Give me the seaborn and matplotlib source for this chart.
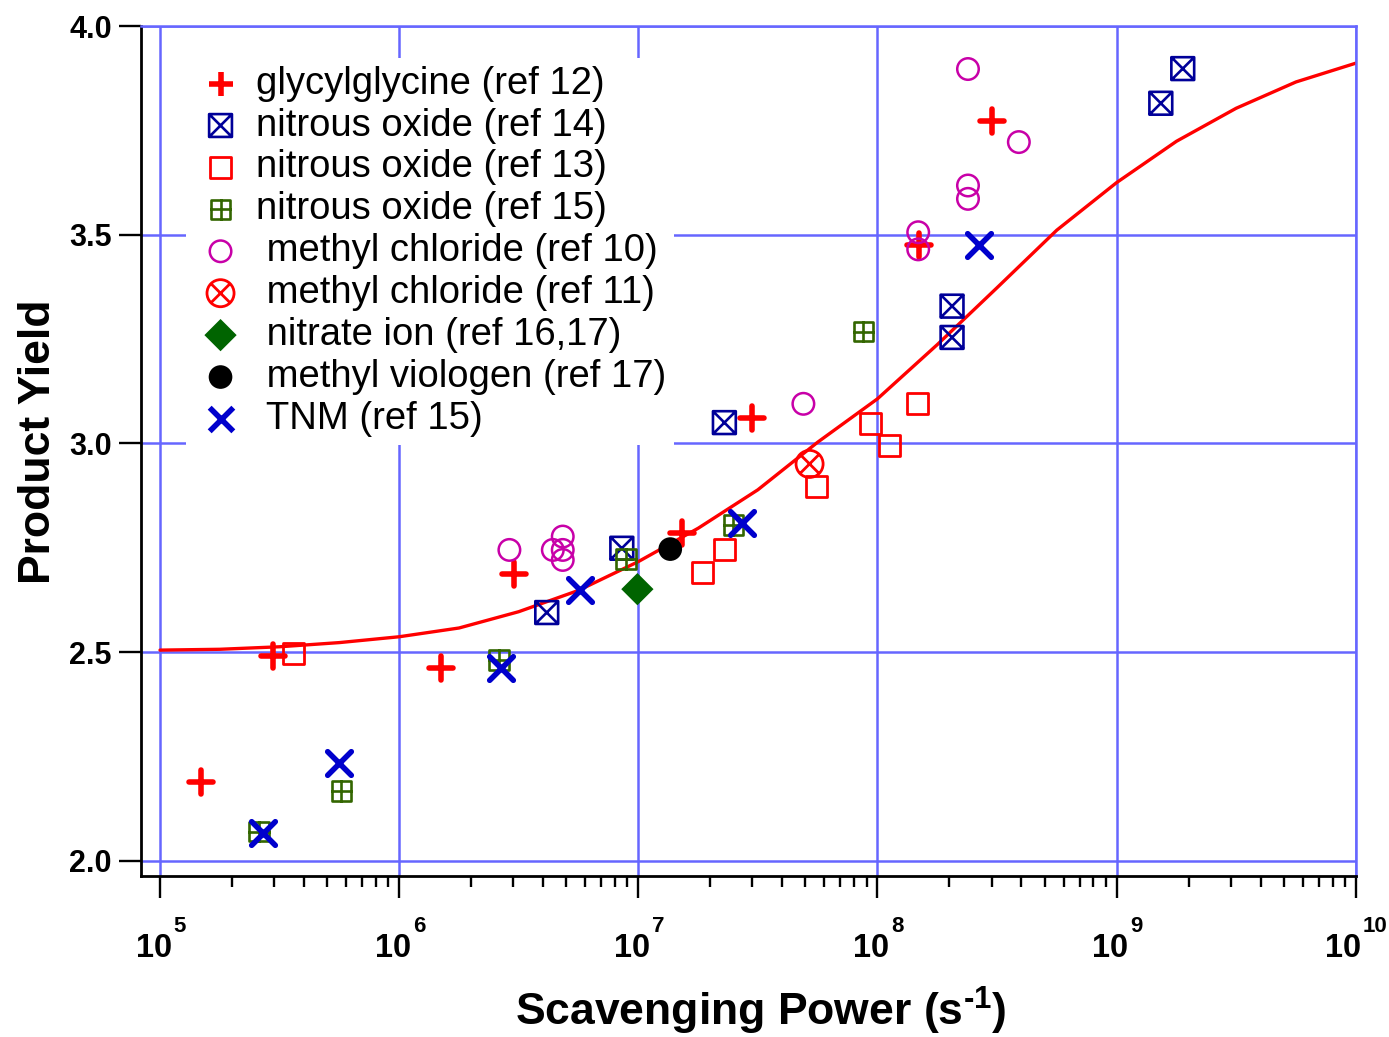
import numpy as np
import matplotlib
matplotlib.use("Agg")
import matplotlib.pyplot as plt
import seaborn as sns
from matplotlib.path import Path
from matplotlib.ticker import FixedLocator, FixedFormatter, NullFormatter

# ---------------- data ----------------
gly_x = [1.48e5, 2.96e5, 1.49e6, 3.03e6, 1.52e7, 2.98e7, 1.49e8, 3.02e8]
gly_y = [2.188, 2.491, 2.462, 2.687, 2.786, 3.060, 3.475, 3.773]

n2o14_x = [4.14e6, 8.53e6, 2.29e7, 2.05e8, 2.05e8, 1.53e9, 1.89e9]
n2o14_y = [2.595, 2.749, 3.050, 3.329, 3.254, 3.815, 3.898]

n2o13_x = [3.63e5, 1.85e7, 2.29e7, 5.54e7, 9.31e7, 1.12e8, 1.47e8]
n2o13_y = [2.496, 2.691, 2.747, 2.897, 3.048, 2.996, 3.095]

n2o15_x = [2.60e5, 5.73e5, 2.62e6, 8.89e6, 2.50e7, 8.73e7]
n2o15_y = [2.070, 2.168, 2.481, 2.723, 2.805, 3.268]

mecl10_x = [2.89e6, 4.39e6, 4.83e6, 4.83e6, 4.83e6, 4.90e7,
            1.48e8, 1.48e8, 2.39e8, 2.39e8, 2.39e8, 3.90e8]
mecl10_y = [2.745, 2.745, 2.777, 2.745, 2.721, 3.095,
            3.506, 3.465, 3.897, 3.618, 3.586, 3.722]

mecl11_x = [5.20e7]
mecl11_y = [2.951]

nitrate_x = [9.91e6]
nitrate_y = [2.651]

mv_x = [1.36e7]
mv_y = [2.747]

tnm_x = [2.70e5, 5.62e5, 2.66e6, 5.71e6, 2.71e7, 2.67e8]
tnm_y = [2.066, 2.234, 2.461, 2.649, 2.809, 3.475]

fit_x = [1e5, 1.78e5, 3.16e5, 5.62e5, 1e6, 1.78e6, 3.16e6, 5.62e6, 1e7,
         1.78e7, 3.16e7, 5.62e7, 1e8, 1.78e8, 3.16e8, 5.62e8, 1e9, 1.78e9,
         3.16e9, 5.62e9, 1e10]
fit_y = [2.505, 2.507, 2.513, 2.523, 2.537, 2.558, 2.597, 2.648, 2.717,
         2.797, 2.889, 3.003, 3.107, 3.237, 3.373, 3.511, 3.625, 3.724,
         3.803, 3.866, 3.911]

labels = ["glycylglycine (ref 12)", "nitrous oxide (ref 14)",
          "nitrous oxide (ref 13)", "nitrous oxide (ref 15)",
          " methyl chloride (ref 10)", " methyl chloride (ref 11)",
          " nitrate ion (ref 16,17)", " methyl viologen (ref 17)",
          " TNM (ref 15)"]

xticks = [1e5, 1e6, 1e7, 1e8, 1e9, 1e10]
xtick_base = "10"
xtick_exps = ["5", "6", "7", "8", "9", "10"]
yticks = [2.0, 2.5, 3.0, 3.5, 4.0]
ytick_labels = ["2.0", "2.5", "3.0", "3.5", "4.0"]

# ---------------- style ----------------
sns.set_style("ticks")
plt.rcParams["font.family"] = ["Liberation Sans", "DejaVu Sans"]
plt.rcParams["font.weight"] = "bold"
for k in ("text.color", "axes.labelcolor", "xtick.color", "ytick.color"):
    plt.rcParams[k] = "black"
plt.rcParams["mathtext.fontset"] = "custom"
plt.rcParams["mathtext.rm"] = "Liberation Sans:bold"
plt.rcParams["mathtext.bf"] = "Liberation Sans:bold"
plt.rcParams["mathtext.it"] = "Liberation Sans:bold:italic"
plt.rcParams["mathtext.sf"] = "Liberation Sans:bold"
plt.rcParams["mathtext.default"] = "rm"

GRID = "#6666FF"

# custom markers
M, L, C = Path.MOVETO, Path.LINETO, Path.CLOSEPOLY
xbox = Path([(-1, -1), (1, -1), (1, 1), (-1, 1), (-1, -1),
             (-1, -1), (1, 1), (-1, 1), (1, -1)],
            [M, L, L, L, C, M, L, M, L])
gridbox = Path([(-1, -1), (1, -1), (1, 1), (-1, 1), (-1, -1),
                (0, -1.1), (0, 1.1), (-1.1, 0), (1.1, 0)],
               [M, L, L, L, C, M, L, M, L])
d = 0.707
xlines = Path([(-d, -d), (d, d), (-d, d), (d, -d)], [M, L, M, L])
circx = Path.make_compound_path(Path.unit_circle(), xlines)

fig = plt.figure(figsize=(13.89, 10.37), dpi=100)
ax = fig.add_axes([0.1013, 0.1553, 0.9761 - 0.1013, 0.9749 - 0.1553])
ax.set_xscale("log")

sns.lineplot(x=fit_x, y=fit_y, color="#FF0000", linewidth=2.4,
             estimator=None, sort=False, ax=ax, label="_nolegend_", zorder=2)


def unfilled(xs, ys, marker, s, lw, color, label):
    sns.scatterplot(x=xs, y=ys, marker=marker, s=s, facecolor="none",
                    edgecolor=color, linewidth=lw, label=label, ax=ax, zorder=3)


def stroke(xs, ys, marker, s, lw, color, label):
    sns.scatterplot(x=xs, y=ys, marker=marker, s=s, color=color,
                    linewidth=lw, label=label, ax=ax, zorder=3,
                    capstyle="round")


def filled(xs, ys, marker, s, color, label):
    sns.scatterplot(x=xs, y=ys, marker=marker, s=s, color=color,
                    edgecolor="none", linewidth=0, label=label, ax=ax, zorder=3)


stroke(gly_x, gly_y, "+", 320, 4.0, "#FF0000", labels[0])
unfilled(n2o14_x, n2o14_y, xbox, 270, 1.9, "#000099", labels[1])
unfilled(n2o13_x, n2o13_y, "s", 230, 2.0, "#FF0000", labels[2])
unfilled(n2o15_x, n2o15_y, gridbox, 240, 1.9, "#336600", labels[3])
unfilled(mecl10_x, mecl10_y, "o", 240, 1.8, "#C800A8", labels[4])
unfilled(mecl11_x, mecl11_y, circx, 380, 2.0, "#FF0000", labels[5])
filled(nitrate_x, nitrate_y, "D", 270, "#006400", labels[6])
filled(mv_x, mv_y, "o", 290, "#000000", labels[7])
stroke(tnm_x, tnm_y, "x", 290, 4.0, "#0000CC", labels[8])

# ---------------- axes ----------------
ax.set_xlim(10 ** 4.9193, 1e10)
ax.set_ylim(1.964, 4.0)
ax.xaxis.set_major_locator(FixedLocator(xticks))
ax.xaxis.set_major_formatter(NullFormatter())
minor = [m * 10 ** e for e in range(5, 10) for m in range(2, 10)]
ax.xaxis.set_minor_locator(FixedLocator(minor))
ax.xaxis.set_minor_formatter(NullFormatter())
ax.yaxis.set_major_locator(FixedLocator(yticks))
ax.yaxis.set_major_formatter(FixedFormatter(ytick_labels))
ax.yaxis.set_minor_locator(FixedLocator([]))

ax.grid(True, which="major", color=GRID, linewidth=1.8)
ax.set_axisbelow(True)
for side in ("left", "bottom"):
    ax.spines[side].set_color("black")
    ax.spines[side].set_linewidth(2.0)
for side in ("top", "right"):
    ax.spines[side].set_visible(True)
    ax.spines[side].set_color(GRID)
    ax.spines[side].set_linewidth(1.8)

ax.tick_params(axis="both", which="major", length=15.8, width=1.7,
               direction="out", color="black")
ax.tick_params(axis="x", which="minor", length=8, width=1.7, direction="out")
ax.tick_params(axis="y", which="major", labelsize=22, pad=5)

# x tick labels: "10" with a raised exponent, centred as a whole on the tick
xt = ax.get_xaxis_transform()
for t, e in zip(xticks, xtick_exps):
    one = len(e) == 1
    ax.annotate(xtick_base, xy=(t, 0), xycoords=xt,
                xytext=(8.6 if one else 4.0, -58.5), textcoords="offset points",
                ha="right", va="baseline", fontsize=23.5, fontweight="bold",
                annotation_clip=False)
    ax.annotate(e, xy=(t, 0), xycoords=xt,
                xytext=(9.8 if one else 5.0, -40.5), textcoords="offset points",
                ha="left", va="baseline", fontsize=16, fontweight="bold",
                annotation_clip=False)

ax.set_xlabel("Scavenging Power (s$^{\u20101}$)", fontsize=32, fontweight="bold")
ax.set_ylabel("Product Yield", fontsize=32, fontweight="bold")
ax.xaxis.set_label_coords(0.5105, -0.128)
ax.yaxis.set_label_coords(-0.0672, 0.5106)

leg = ax.legend(loc="upper left", bbox_to_anchor=(0.0374, 0.9624),
                borderaxespad=0, frameon=True, framealpha=1,
                facecolor="white", edgecolor="none", fancybox=False,
                prop={"family": "Liberation Sans", "weight": "normal",
                      "size": 27.5},
                handlelength=1.4, handletextpad=0.22, borderpad=0.2,
                labelspacing=0.155, scatterpoints=1)
leg.set_zorder(5)

fig.savefig("out.png", dpi=100)
